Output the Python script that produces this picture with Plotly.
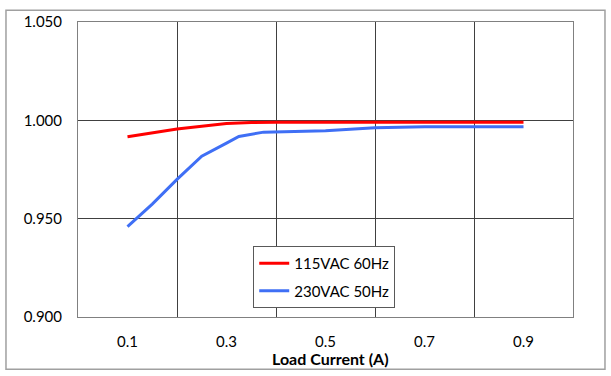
import plotly.graph_objects as go

red_x = [0.1, 0.2, 0.3, 0.35, 0.4, 0.5, 0.6, 0.7, 0.8, 0.9]
red_y = [0.9917, 0.9956, 0.9984, 0.9989, 0.999, 0.999, 0.999, 0.999, 0.999, 0.999]
blue_x = [0.1, 0.15, 0.2, 0.25, 0.3, 0.325, 0.375, 0.5, 0.6, 0.7, 0.8, 0.9]
blue_y = [0.946, 0.9574, 0.970, 0.9818, 0.9884, 0.9918, 0.994, 0.9947, 0.9962, 0.9968, 0.9968, 0.9968]
x_ticks = [0.1, 0.3, 0.5, 0.7, 0.9]
y_ticks = [0.900, 0.950, 1.000, 1.050]
series_names = ["115VAC 60Hz", "230VAC 50Hz"]

font = "Lato, Open Sans, sans-serif"

fig = go.Figure()
fig.add_trace(go.Scatter(x=red_x, y=red_y, mode="lines", name=series_names[0], legendgroup="a",
                         line=dict(color="#ff0000", width=3)))
fig.add_trace(go.Scatter(x=blue_x, y=blue_y, mode="lines", name=series_names[1], legendgroup="b",
                         line=dict(color="#3f6ff5", width=3)))

fig.update_layout(
    width=611, height=376,
    margin=dict(l=78, r=38, t=18, b=59),
    paper_bgcolor="white", plot_bgcolor="white",
    font=dict(family=font, size=15, color="#000000"),
    showlegend=True,
    legend=dict(x=0.354, y=0.241, xanchor="left", yanchor="top",
                bordercolor="#595959", borderwidth=1, bgcolor="white",
                font=dict(size=15), tracegroupgap=5, itemwidth=30),
    xaxis=dict(range=[0, 1], tickvals=x_ticks, ticktext=[f"{v:.1f}" for v in x_ticks],
               showgrid=False, ticks="outside", ticklen=11, tickcolor="rgba(0,0,0,0)",
               zeroline=False, showline=True, linecolor="#808080", mirror=True,
               minor=dict(tick0=0, dtick=0.2, showgrid=True, gridcolor="#404040", gridwidth=1,
                          ticks="")),
    yaxis=dict(range=[0.9, 1.05], tickvals=y_ticks, ticktext=[f"{v:.3f}" for v in y_ticks],
               showgrid=True, gridcolor="#404040", gridwidth=1,
               ticks="outside", ticklen=12, tickcolor="rgba(0,0,0,0)",
               zeroline=False, showline=True, linecolor="#808080", mirror=True),
    annotations=[dict(text="<b>Load Current (A)</b>", x=0.51, y=-0.1, xref="paper", yref="paper",
                      showarrow=False, xanchor="center", yanchor="top", font=dict(size=16, family=font))],
    shapes=[dict(type="rect", xref="paper", yref="paper",
                 x0=-0.1455, x1=1.0646, y0=-0.177, y1=1.040,
                 line=dict(color="#a0a0a0", width=1.5), layer="below")],
)

fig.write_html("out.html", config={"displayModeBar": False},
               post_script="document.body.style.margin='0';")
